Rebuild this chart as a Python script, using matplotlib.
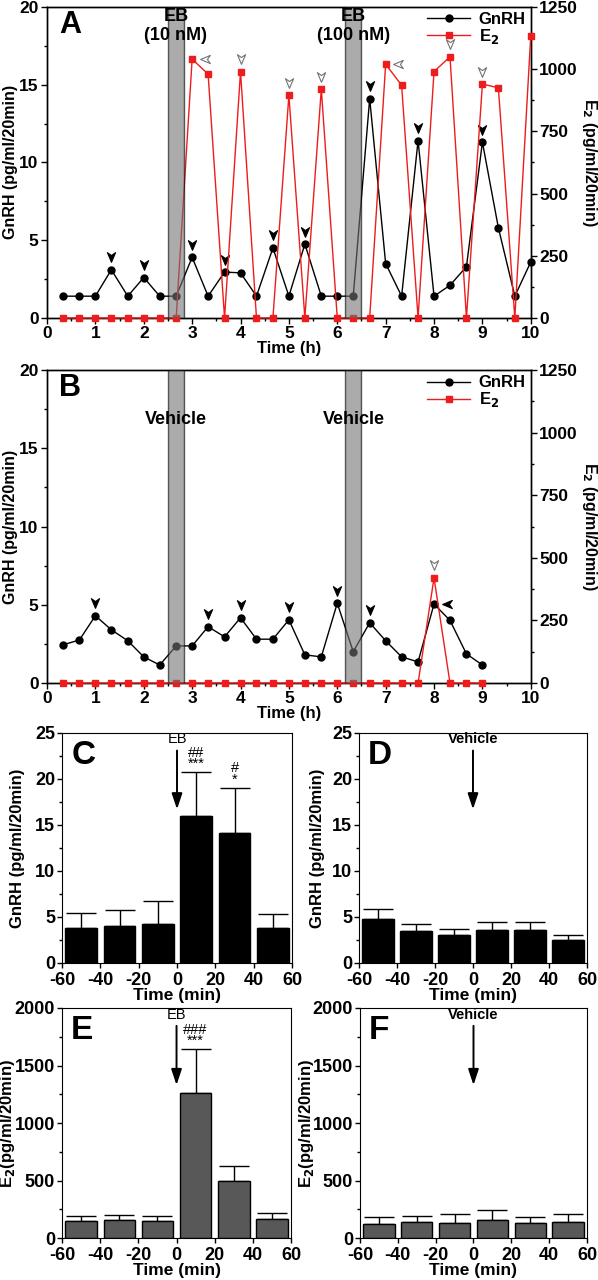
import matplotlib
matplotlib.use('Agg')
import matplotlib.pyplot as plt
from matplotlib.path import Path
from matplotlib.transforms import ScaledTranslation
from matplotlib.ticker import MultipleLocator

plt.rcParams['font.family'] = ['Liberation Sans', 'DejaVu Sans']
plt.rcParams['font.weight'] = 'bold'
plt.rcParams['axes.labelweight'] = 'bold'
plt.rcParams['axes.unicode_minus'] = False

# ---- data ----
# sampling times (h), every 20 min
t_a = [0.33, 0.67, 1, 1.33, 1.67, 2, 2.33, 2.67, 3, 3.33, 3.67, 4, 4.33, 4.67, 5,
       5.33, 5.67, 6, 6.33, 6.67, 7, 7.33, 7.67, 8, 8.33, 8.67, 9, 9.33, 9.67, 10]
gnrh_a = [1.4, 1.4, 1.4, 3.1, 1.4, 2.6, 1.4, 1.4, 3.9, 1.4, 2.95, 2.9, 1.4, 4.5, 1.4,
          4.75, 1.4, 1.4, 1.4, 14.1, 3.5, 1.4, 11.4, 1.4, 2.1, 3.3, 11.3, 5.8, 1.4, 3.6]
e2_a = [0, 0, 0, 0, 0, 0, 0, 0, 1040, 980, 0, 990, 0, 0, 895,
        0, 920, 0, 0, 0, 1020, 935, 0, 990, 1050, 0, 940, 925, 0, 1135]
gnrh_pulse_a = [3, 5, 8, 10, 13, 15, 19, 22, 26]   # indices of GnRH pulses
e2_pulse_a = [11, 14, 16, 24, 26]
e2_pulse_left_a = [8, 20]
gnrh_pulse_left_a = []

t_b = t_a[:27]
gnrh_b = [2.44, 2.75, 4.3, 3.4, 2.7, 1.67, 1.15, 2.37, 2.37, 3.6, 2.95, 4.17, 2.8, 2.8,
          4.04, 1.8, 1.67, 5.1, 2.0, 3.85, 2.7, 1.67, 1.35, 5.05, 4.0, 1.86, 1.15]
e2_b = [0, 0, 0, 0, 0, 0, 0, 0, 0, 0, 0, 0, 0, 0,
        0, 0, 0, 0, 0, 0, 0, 0, 0, 420, 0, 0, 0]
gnrh_pulse_b = [2, 9, 11, 14, 17, 19]
gnrh_pulse_left_b = [23]
e2_pulse_b = [23]
e2_pulse_left_b = []

# treatment windows (h)
win_a = [(2.5, 2.83), (6.17, 6.5)]
win_labels_a = ['EB\n(10 nM)', 'EB\n(100 nM)']
win_b = [(2.5, 2.83), (6.17, 6.5)]
win_labels_b = ['Vehicle', 'Vehicle']

# bar panels
bins = [-50, -30, -10, 10, 30, 50]
gnrh_eb = [3.8, 4.05, 4.25, 16.0, 14.1, 3.85]
gnrh_eb_err = [1.6, 1.7, 2.5, 4.7, 4.9, 1.5]
gnrh_veh = [4.78, 3.5, 3.08, 3.59, 3.55, 2.46]
gnrh_veh_err = [1.1, 0.74, 0.62, 0.91, 0.87, 0.62]
e2_eb = [150, 156, 150, 1263, 494, 168]
e2_eb_err = [38, 44, 41, 379, 136, 49]
e2_veh = [125, 140, 134, 157, 134, 137]
e2_veh_err = [58, 49, 78, 84, 49, 75]
stars_gnrh_eb = ['', '', '', '##\n***', '#\n*', '']
stars_e2_eb = ['', '', '', '###\n***', '', '']

RED = '#ee1c1c'

fig = plt.figure(figsize=(5.98, 12.8), dpi=100)

# arrowhead markers
down_head = Path([(0, -0.5), (-0.42, 0.5), (0, 0.2), (0.42, 0.5), (0, -0.5)],
                 [Path.MOVETO, Path.LINETO, Path.LINETO, Path.LINETO, Path.CLOSEPOLY])
left_head = Path([(-0.5, 0), (0.5, 0.42), (0.2, 0), (0.5, -0.42), (-0.5, 0)],
                 [Path.MOVETO, Path.LINETO, Path.LINETO, Path.LINETO, Path.CLOSEPOLY])


def heads(ax, t, y, idx, left=False, open_=False):
    if not idx:
        return
    if left:
        off = ScaledTranslation(9 / 72, 0, fig.dpi_scale_trans)
        mk = left_head
    else:
        off = ScaledTranslation(0, 9 / 72, fig.dpi_scale_trans)
        mk = down_head
    ax.plot([t[i] for i in idx], [y[i] for i in idx], ls='none', marker=mk, ms=7,
            mfc='white' if open_ else 'black', mec='0.45' if open_ else 'black',
            mew=0.8, transform=ax.transData + off, zorder=6, clip_on=False)


def timecourse(rect, letter, t, gnrh, e2, wins, wlabels, wy, pulses):
    ax = fig.add_axes(rect)
    ax2 = ax.twinx()
    l1, = ax.plot(t, gnrh, color='black', marker='o', ms=5, lw=1, label='GnRH', clip_on=False, zorder=3)
    l2, = ax2.plot(t, e2, color=RED, marker='s', ms=5, lw=1, label='E$_2$', clip_on=False, zorder=3)
    for (a, b), lab in zip(wins, wlabels):
        ax2.axvspan(a, b, facecolor='0.45', alpha=0.6, edgecolor='black', lw=1, zorder=4)
        ax2.text((a + b) / 2, wy, lab, ha='center', va='top', fontsize=13, zorder=7,
                 transform=ax2.get_xaxis_transform(), linespacing=1.15)
    gp, gl, ep, el = pulses
    heads(ax, t, gnrh, gp)
    heads(ax, t, gnrh, gl, left=True)
    heads(ax2, t, e2, ep, open_=True)
    heads(ax2, t, e2, el, left=True, open_=True)
    ax.set_xlim(0, 10)
    ax.set_ylim(0, 20)
    ax2.set_ylim(0, 1250)
    ax.xaxis.set_major_locator(MultipleLocator(1))
    ax.xaxis.set_minor_locator(MultipleLocator(0.5))
    ax.yaxis.set_major_locator(MultipleLocator(5))
    ax.yaxis.set_minor_locator(MultipleLocator(2.5))
    ax2.yaxis.set_major_locator(MultipleLocator(250))
    ax2.yaxis.set_minor_locator(MultipleLocator(125))
    for a in (ax, ax2):
        a.tick_params(which='both', direction='out', labelsize=12.5, width=1, pad=2)
        a.tick_params(which='major', length=4)
        a.tick_params(which='minor', length=2.5)
        for s in a.spines.values():
            s.set_linewidth(1)
    ax.set_xlabel('Time (h)', fontsize=12, labelpad=0)
    ax.set_ylabel('GnRH (pg/ml/20min)', fontsize=11.5, labelpad=1)
    ax2.set_ylabel('E$_2$ (pg/ml/20min)', fontsize=11.5, rotation=270, labelpad=15)
    ax.text(0.025, 0.99, letter, transform=ax.transAxes, fontsize=22, va='top', ha='left')
    ax2.legend(handles=[l1, l2], loc='upper right', bbox_to_anchor=(1.01, 1.015), frameon=False,
               fontsize=12, handlelength=2.6, labelspacing=0.0, borderaxespad=0.2,
               handletextpad=0.5)
    return ax, ax2


timecourse([0.0786, 0.7516, 0.809, 0.243], 'A', t_a, gnrh_a, e2_a, win_a, win_labels_a, 0.995,
           (gnrh_pulse_a, gnrh_pulse_left_a, e2_pulse_a, e2_pulse_left_a))
timecourse([0.0786, 0.4664, 0.809, 0.2445], 'B', t_b, gnrh_b, e2_b, win_b, win_labels_b, 0.87,
           (gnrh_pulse_b, gnrh_pulse_left_b, e2_pulse_b, e2_pulse_left_b))


def barpanel(rect, letter, vals, errs, color, ymax, ystep, ylabel, inj, arrow_y, stars, ylab_x):
    ax = fig.add_axes(rect)
    ax.bar(bins, vals, width=16.5, color=color, edgecolor='black', lw=1, zorder=2)
    ax.errorbar(bins, vals, yerr=[[0] * len(errs), errs], fmt='none', ecolor='black',
                elinewidth=1, capsize=11, capthick=1, zorder=1)
    for x, v, e, s in zip(bins, vals, errs, stars):
        if s:
            ax.annotate(s, xy=(x, v + e), xytext=(0, 1), textcoords='offset points',
                        ha='center', va='bottom', fontsize=10.5, fontweight='normal', linespacing=0.75)
    ax.annotate(inj, xy=(0, arrow_y[1]), xytext=(0, arrow_y[0]), ha='center', va='center',
                fontsize=10.5, fontweight='bold' if inj == 'Vehicle' else 'normal',
                arrowprops=dict(arrowstyle='-|>,head_width=0.3,head_length=0.9', color='black',
                                lw=1.4, shrinkA=1, shrinkB=0))
    ax.set_xlim(-60, 60)
    ax.set_ylim(0, ymax)
    ax.xaxis.set_major_locator(MultipleLocator(20))
    ax.yaxis.set_major_locator(MultipleLocator(ystep))
    ax.yaxis.set_minor_locator(MultipleLocator(ystep / 2))
    ax.tick_params(which='both', direction='out', labelsize=13, width=1)
    ax.tick_params(axis='x', pad=3)
    ax.tick_params(axis='y', pad=1.5)
    ax.tick_params(which='major', length=3.5)
    ax.tick_params(which='minor', length=2.5)
    ax.set_xlabel('Time (min)', fontsize=12.5, labelpad=-1)
    ax.set_ylabel(ylabel, fontsize=12)
    ax.yaxis.set_label_coords(ylab_x, 0.5)
    ax.text(0.04, 0.97, letter, transform=ax.transAxes, fontsize=24, va='top', ha='left')
    return ax


barpanel([0.1037, 0.2477, 0.3846, 0.1797], 'C', gnrh_eb, gnrh_eb_err, 'black', 25, 5,
         'GnRH (pg/ml/20min)', 'EB', (24.3, 16.7), stars_gnrh_eb, -0.16)
barpanel([0.6003, 0.2477, 0.3813, 0.1797], 'D', gnrh_veh, gnrh_veh_err, 'black', 25, 5,
         'GnRH (pg/ml/20min)', 'Vehicle', (24.3, 16.7), [''] * 6, -0.15)
barpanel([0.1037, 0.0328, 0.383, 0.1797], 'E', e2_eb, e2_eb_err, '#585858', 2000, 500,
         'E$_2$(pg/ml/20min)', 'EB', (1942, 1330), stars_e2_eb, -0.195)
barpanel([0.602, 0.0328, 0.3796, 0.1797], 'F', e2_veh, e2_veh_err, '#585858', 2000, 500,
         'E$_2$(pg/ml/20min)', 'Vehicle', (1942, 1330), [''] * 6, -0.195)

fig.savefig('out.png', dpi=100)
